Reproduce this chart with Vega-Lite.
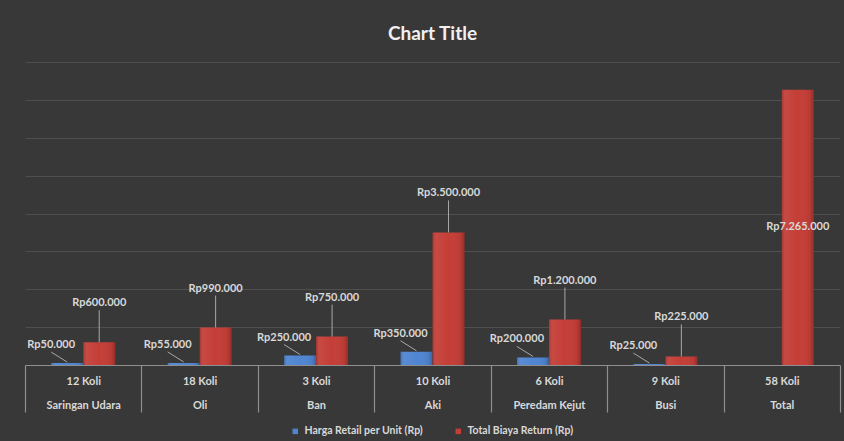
{
  "$schema": "https://vega.github.io/schema/vega-lite/v6.json",
  "width": 815,
  "height": 303,
  "autosize": {"type": "none"},
  "padding": {"left": 25, "top": 62, "right": 4, "bottom": 76},
  "background": "#383838",
  "title": {"text": "Chart Title", "fontSize": 19, "font": "Lato", "fontWeight": "bold", "color": "#f0f0f0", "anchor": "middle", "offset": 18},
  "config": {
    "locale": {"number": {"decimal": ",", "thousands": ".", "grouping": [3], "currency": ["Rp", ""]}},
    "view": {"stroke": null},
    "font": "Lato"
  },
  "data": {
    "values": [
      {"category": "12 Koli|Saringan Udara", "series": "Harga Retail per Unit (Rp)", "value": 50000},
      {"category": "12 Koli|Saringan Udara", "series": "Total Biaya Return (Rp)", "value": 600000},
      {"category": "18  Koli|Oli", "series": "Harga Retail per Unit (Rp)", "value": 55000},
      {"category": "18  Koli|Oli", "series": "Total Biaya Return (Rp)", "value": 990000},
      {"category": "3  Koli|Ban", "series": "Harga Retail per Unit (Rp)", "value": 250000},
      {"category": "3  Koli|Ban", "series": "Total Biaya Return (Rp)", "value": 750000},
      {"category": "10  Koli|Aki", "series": "Harga Retail per Unit (Rp)", "value": 350000},
      {"category": "10  Koli|Aki", "series": "Total Biaya Return (Rp)", "value": 3500000},
      {"category": "6  Koli|Peredam Kejut", "series": "Harga Retail per Unit (Rp)", "value": 200000},
      {"category": "6  Koli|Peredam Kejut", "series": "Total Biaya Return (Rp)", "value": 1200000},
      {"category": "9  Koli|Busi", "series": "Harga Retail per Unit (Rp)", "value": 25000},
      {"category": "9  Koli|Busi", "series": "Total Biaya Return (Rp)", "value": 225000},
      {"category": "58  Koli|Total", "series": "Total Biaya Return (Rp)", "value": 7265000}
    ]
  },
  "encoding": {
    "x": {
      "field": "category", "type": "nominal", "sort": null,
      "scale": {"paddingInner": 0, "paddingOuter": 0},
      "axis": {
        "title": null, "labelAngle": 0, "tickBand": "extent", "tickSize": 47,
        "tickColor": "#8f8f8f", "domainColor": "#8f8f8f", "tickWidth": 1.2, "domainWidth": 1.2,
        "labelExpr": "isValid(datum.value) ? split(datum.value, '|') : ''", "labelLineHeight": 24, "labelBaseline": "top",
        "labelPadding": -37, "labelFont": "Lato", "labelFontSize": 11, "labelFontWeight": "bold",
        "labelColor": "#d9d9d9", "grid": false
      }
    },
    "xOffset": {
      "field": "series", "type": "nominal",
      "sort": ["Harga Retail per Unit (Rp)", "Total Biaya Return (Rp)"],
      "scale": {"paddingInner": 0, "paddingOuter": 0.82}
    },
    "y": {
      "field": "value", "type": "quantitative",
      "scale": {"domain": [0, 8000000], "nice": false},
      "axis": {
        "title": null, "labels": false, "ticks": false, "domain": false,
        "values": [1000000, 2000000, 3000000, 4000000, 5000000, 6000000, 7000000, 8000000],
        "grid": true, "gridColor": "#4f4f4f", "gridWidth": 1
      }
    }
  },
  "layer": [
    {
      "mark": {"type": "bar"},
      "encoding": {
        "color": {
          "field": "series", "type": "nominal",
          "scale": {"domain": ["Harga Retail per Unit (Rp)", "Total Biaya Return (Rp)"], "range": ["#4f85d2", "#c43e37"]},
          "legend": {
            "orient": "none", "legendX": 265, "legendY": 364, "direction": "horizontal", "title": null,
            "symbolType": "square", "symbolSize": 30, "labelColor": "#d9d9d9", "labelFont": "Lato",
            "labelFontSize": 10.5, "labelFontWeight": "bold", "columnPadding": 30, "symbolStrokeWidth": 0
          }
        }
      }
    },
    {
      "mark": {
        "type": "bar",
        "fill": {
          "gradient": "linear", "x1": 0, "x2": 1, "y1": 0, "y2": 0,
          "stops": [
            {"offset": 0, "color": "rgba(0,0,0,0.18)"},
            {"offset": 0.12, "color": "rgba(255,255,255,0.06)"},
            {"offset": 0.5, "color": "rgba(255,255,255,0.0)"},
            {"offset": 0.88, "color": "rgba(0,0,0,0.06)"},
            {"offset": 1, "color": "rgba(0,0,0,0.25)"}
          ]
        }
      },
      "encoding": {}
    },
    {
      "transform": [{"filter": "datum.series == 'Total Biaya Return (Rp)' && datum.category != '58  Koli|Total'"}],
      "mark": {"type": "rule", "color": "#a8a8a8", "strokeWidth": 1, "y2Offset": -32},
      "encoding": {"y2": {"field": "value"}}
    },
    {
      "transform": [{"filter": "datum.series == 'Total Biaya Return (Rp)' && datum.category != '58  Koli|Total'"}],
      "mark": {"type": "text", "dy": -39, "font": "Lato", "fontSize": 11, "fontWeight": "bold", "color": "#d9d9d9"},
      "encoding": {"text": {"field": "value", "type": "quantitative", "format": "$,.0f"}}
    },
    {
      "transform": [{"filter": "datum.category == '58  Koli|Total'"}],
      "mark": {"type": "text", "dy": 137, "font": "Lato", "fontSize": 11, "fontWeight": "bold", "color": "#d9d9d9"},
      "encoding": {"text": {"field": "value", "type": "quantitative", "format": "$,.0f"}}
    },
    {
      "transform": [{"filter": "datum.series == 'Harga Retail per Unit (Rp)'"}],
      "mark": {"type": "rule", "color": "#a8a8a8", "strokeWidth": 1, "yOffset": -1, "x2Offset": -32, "y2Offset": -11},
      "encoding": {"x2": {"field": "category", "bandPosition": 0.5}, "y2": {"field": "value"}}
    },
    {
      "transform": [{"filter": "datum.series == 'Harga Retail per Unit (Rp)'"}],
      "mark": {"type": "text", "dx": -16, "dy": -18, "font": "Lato", "fontSize": 11, "fontWeight": "bold", "color": "#d9d9d9"},
      "encoding": {"text": {"field": "value", "type": "quantitative", "format": "$,.0f"}}
    }
  ]
}
